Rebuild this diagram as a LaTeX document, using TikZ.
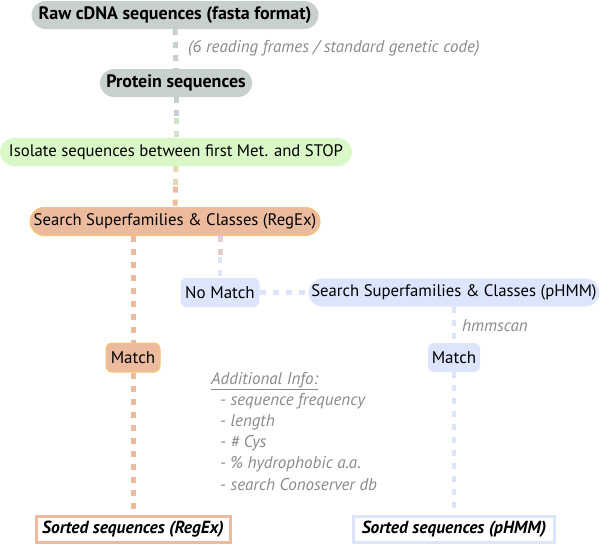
\documentclass[tikz,border=0pt]{standalone}
\usepackage{fontspec}
\setmainfont{PT Sans}
\usetikzlibrary{calc}
\definecolor{grayfill}{HTML}{C7D0CD}
\definecolor{greenfill}{HTML}{DAF7C8}
\definecolor{orangefill}{HTML}{ECBB9D}
\definecolor{orangeborder}{HTML}{F8C46C}
\definecolor{bluefill}{HTML}{DCE5FB}
\definecolor{graytext}{HTML}{8A8A8A}
\definecolor{midgg}{HTML}{D0E3C9}
\definecolor{midgo}{HTML}{E2D9B2}
\definecolor{midob}{HTML}{E2D0CC}
\tikzset{
  pill/.style={rounded corners=14pt, minimum height=28pt, inner sep=0pt, font=\fontsize{16.7}{18}\selectfont},
  boldpill/.style={pill, font=\fontsize{18}{20}\selectfont\bfseries},
  smallbox/.style={rounded corners=6pt, minimum height=29pt, inner sep=0pt, font=\fontsize{17}{18}\selectfont},
  sortbox/.style={draw, line width=3pt, fill=white, minimum height=26pt, inner sep=0pt, font=\fontsize{17.5}{18}\selectfont\bfseries\itshape},
  conn/.style={line width=5pt, dash pattern=on 6pt off 7pt},
  bconn/.style={line width=4.5pt, dash pattern=on 6pt off 7pt, bluefill},
  note/.style={text=graytext, font=\fontsize{17}{18}\selectfont\itshape, anchor=west, inner sep=0pt},
}
\begin{document}
\begin{tikzpicture}[x=1pt, y=-1pt]
\useasboundingbox (0,0) rectangle (600,544);
% nodes
\node[boldpill, fill=grayfill, minimum width=287pt] (raw) at (175,15) {Raw cDNA sequences (fasta format)};
\node[boldpill, fill=grayfill, minimum width=152pt] (prot) at (176,83) {Protein sequences};
\node[pill, fill=greenfill, minimum width=352pt] (iso) at (176,152) {Isolate sequences between first Met. and STOP};
\node[pill, fill=orangefill, draw=orangeborder, line width=1pt, minimum width=290pt] (regex) at (175,221.5) {Search Superfamilies \& Classes (RegEx)};
\node[smallbox, fill=bluefill, minimum width=79pt] (nomatch) at (220,292.5) {No Match};
\node[pill, fill=bluefill, minimum width=291pt] (phmm) at (454,292.5) {Search Superfamilies \& Classes (pHMM)};
\node[smallbox, fill=orangefill, draw=orangeborder, line width=1pt, minimum width=54pt] (match1) at (133,357.5) {Match};
\node[smallbox, fill=bluefill, minimum width=52pt] (match2) at (454,357.5) {Match};
\node[sortbox, draw=orangefill, minimum width=194pt] (sort1) at (133,529) {Sorted sequences (RegEx)};
\node[sortbox, draw=bluefill, minimum width=201pt] (sort2) at (454,529) {Sorted sequences (pHMM)};
% connector anchor points
\coordinate (c1) at ($(prot.south)!0.5!(iso.north)$);
\coordinate (c2) at ($(iso.south)!0.5!(regex.north)$);
\coordinate (rl) at (133,236);
\coordinate (rr) at (220,236);
\coordinate (c3) at ($(rr)!0.5!(nomatch.north)$);
% connectors
\draw[conn, grayfill] (raw.south) -- (prot.north);
\draw[conn, grayfill] (prot.south) -- (c1);
\draw[conn, midgg] (c1) -- (iso.north);
\draw[conn, midgo] (iso.south) -- (c2);
\draw[conn, orangefill] (c2) -- (regex.north);
\draw[conn, orangefill] (rl) -- (match1.north);
\draw[conn, orangefill] (match1.south) -- (sort1.north);
\draw[conn, midob] (rr) -- (c3);
\draw[bconn] (c3) -- (nomatch.north);
\draw[bconn] (nomatch.east) -- (phmm.west);
\draw[bconn] (phmm.south) -- (match2.north);
\draw[bconn] (match2.south) -- (sort2.north);
% notes
\node[note] (frames) at (188,48) {(6 reading frames / standard genetic code)};
\node[note] (hmm) at (462,326) {hmmscan};
\node[note] (addinfo) at (211,381) {\underline{Additional Info:}};
\node[note] (i1) at (220,401.5) {- sequence frequency};
\node[note] (i2) at (220,422) {- length};
\node[note] (i3) at (220,443) {- \# Cys};
\node[note] (i4) at (220,464) {- \% hydrophobic a.a.};
\node[note] (i5) at (220,485) {- search Conoserver db};
\end{tikzpicture}
\end{document}
